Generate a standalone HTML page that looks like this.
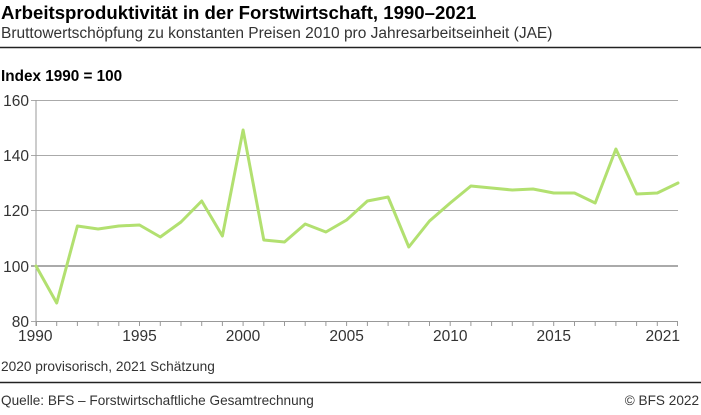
<!DOCTYPE html>
<html><head><meta charset="utf-8"><style>
body{margin:0;background:#fff;width:701px;height:410px;overflow:hidden;font-family:"Liberation Sans",sans-serif;}
</style></head><body>
<svg width="701" height="410" xmlns="http://www.w3.org/2000/svg" font-family="Liberation Sans, sans-serif">
<text x="1" y="19" font-size="18.6" font-weight="bold" fill="#000">Arbeitsproduktivität in der Forstwirtschaft, 1990–2021</text>
<text x="1" y="38" font-size="15.5" fill="#333">Bruttowertschöpfung zu konstanten Preisen 2010 pro Jahresarbeitseinheit (JAE)</text>
<line x1="0" y1="47.5" x2="701" y2="47.5" stroke="#222" stroke-width="1.5"/>
<text x="1" y="81" font-size="15.3" font-weight="bold" fill="#000">Index 1990 = 100</text>
<g stroke="#aaa" stroke-width="1">
<line x1="31" y1="100.5" x2="678" y2="100.5"/>
<line x1="31" y1="155.5" x2="678" y2="155.5"/>
<line x1="31" y1="210.5" x2="678" y2="210.5"/>
<line x1="31" y1="321.5" x2="36" y2="321.5"/>
</g>
<line x1="31" y1="266" x2="678" y2="266" stroke="#777" stroke-width="1.3"/>
<line x1="36" y1="100" x2="36" y2="326" stroke="#999" stroke-width="1"/>
<line x1="36" y1="321.5" x2="678" y2="321.5" stroke="#999" stroke-width="1"/>
<g stroke="#999" stroke-width="1">
<path d="M36.5 321v5M56.7 321v5M77.4 321v5M98.1 321v5M118.8 321v5M139.5 321v5M160.3 321v5M181 321v5M201.7 321v5M222.4 321v5M243.1 321v5M263.8 321v5M284.5 321v5M305.2 321v5M325.9 321v5M346.6 321v5M367.4 321v5M388.1 321v5M408.8 321v5M429.5 321v5M450.2 321v5M470.9 321v5M491.6 321v5M512.3 321v5M533 321v5M553.7 321v5M574.5 321v5M595.2 321v5M615.9 321v5M636.6 321v5M657.3 321v5M677.5 321v5"/>
</g>
<g font-size="15.5" fill="#333" text-anchor="end">
<text x="29" y="106">160</text><text x="29" y="161">140</text><text x="29" y="216">120</text><text x="29" y="272">100</text><text x="29" y="327">80</text>
</g>
<g font-size="15.5" fill="#333" text-anchor="middle">
<text x="18" y="341" text-anchor="start">1990</text><text x="139.5" y="341">1995</text><text x="243" y="341">2000</text><text x="346.6" y="341">2005</text><text x="450.2" y="341">2010</text><text x="553.7" y="341">2015</text><text x="680" y="341" text-anchor="end">2021</text>
</g>
<polyline fill="none" stroke="#b2e070" stroke-width="3" stroke-linejoin="round" stroke-linecap="round"
points="36,266 56.7,303 77.4,226 98.1,229 118.8,226 139.5,225 160.3,237 181,222 201.7,201 222.4,236 243.1,130 263.8,240 284.5,242 305.2,224 325.9,232 346.6,220 367.4,201 388.1,197 408.8,247 429.5,221 450.2,203 470.9,186 491.6,188 512.3,190 533,189 553.7,193 574.5,193 595.2,203 615.9,149 636.6,194 657.3,193 678,183"/>
<text x="1" y="371" font-size="13.7" fill="#333">2020 provisorisch, 2021 Schätzung</text>
<line x1="0" y1="382.5" x2="701" y2="382.5" stroke="#222" stroke-width="1.5"/>
<text x="1" y="405" font-size="13.6" fill="#333">Quelle: BFS – Forstwirtschaftliche Gesamtrechnung</text>
<text x="699" y="405" font-size="13.6" fill="#333" text-anchor="end">© BFS 2022</text>
</svg>
</body></html>
